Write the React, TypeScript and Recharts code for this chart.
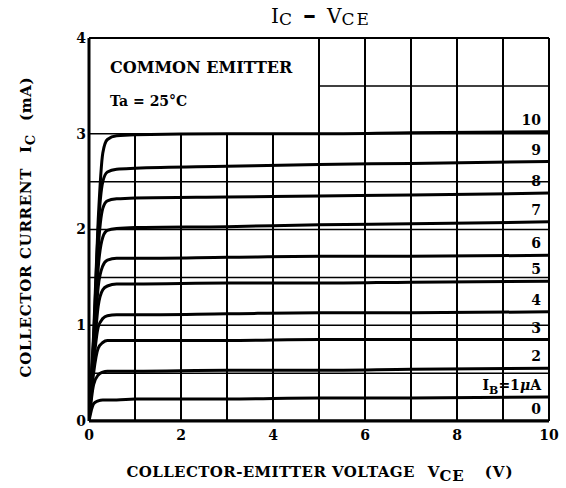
import React from 'react';
import { LineChart, Line, XAxis, YAxis, ReferenceLine, ReferenceArea, LabelList, Label } from 'recharts';

// Collector-emitter voltage sample points (V)
const vce = [0, 0.1, 0.2, 0.3, 0.4, 0.6, 1, 3, 5, 7, 10];
// Collector current (mA) for each base current IB (µA)
const ib0 = [0, 0, 0, 0, 0, 0, 0, 0, 0, 0, 0];
const ib1 = [0, 0.18, 0.21, 0.22, 0.22, 0.22, 0.23, 0.23, 0.24, 0.24, 0.25];
const ib2 = [0, 0.38, 0.48, 0.51, 0.52, 0.52, 0.52, 0.53, 0.53, 0.54, 0.55];
const ib3 = [0, 0.5, 0.76, 0.82, 0.84, 0.84, 0.84, 0.84, 0.85, 0.85, 0.85];
const ib4 = [0, 0.6, 0.98, 1.07, 1.1, 1.11, 1.11, 1.12, 1.13, 1.13, 1.14];
const ib5 = [0, 0.65, 1.2, 1.37, 1.41, 1.43, 1.43, 1.44, 1.44, 1.45, 1.46];
const ib6 = [0, 0.7, 1.4, 1.62, 1.68, 1.7, 1.7, 1.71, 1.72, 1.72, 1.73];
const ib7 = [0, 0.75, 1.6, 1.92, 1.99, 2.01, 2.02, 2.03, 2.05, 2.06, 2.08];
const ib8 = [0, 0.8, 1.8, 2.22, 2.3, 2.32, 2.33, 2.34, 2.35, 2.36, 2.38];
const ib9 = [0, 0.85, 2.0, 2.5, 2.6, 2.63, 2.64, 2.66, 2.68, 2.69, 2.71];
const ib10 = [0, 0.9, 2.1, 2.8, 2.94, 2.98, 2.99, 3.0, 3.0, 3.01, 3.02];

const seriesKeys = ['ib0', 'ib1', 'ib2', 'ib3', 'ib4', 'ib5', 'ib6', 'ib7', 'ib8', 'ib9', 'ib10'];
const curveLabels = ['0', '1', '2', '3', '4', '5', '6', '7', '8', '9', '10'];

const xTicks = [0, 2, 4, 6, 8, 10];
const yTicks = [0, 1, 2, 3, 4];
const vGridFull = [5, 6, 7, 8, 9];
const vGridLower = [1, 2, 3, 4];
const hGridFull = [0.5, 1, 1.5, 2, 2.5, 3];
const hGridUpper = [3.5];

const series = [ib0, ib1, ib2, ib3, ib4, ib5, ib6, ib7, ib8, ib9, ib10];
const data = vce.map((v, i) => {
  const row: Record<string, number> = { vce: v };
  seriesKeys.forEach((k, s) => {
    row[k] = series[s][i];
  });
  return row;
});

const FONT = '"DejaVu Serif", "Liberation Serif", serif';

const makeCurveLabel = (label: string) => (props: any) => {
  const { x, y, index } = props;
  if (index !== vce.length - 1) return null;
  const common = {
    x: x - 8,
    y: y - 7,
    textAnchor: 'end' as const,
    fontFamily: FONT,
    fontWeight: 'bold',
    fontSize: 14,
    fill: '#000',
  };
  if (label === '1') {
    return (
      <text {...common}>
        <tspan>I</tspan>
        <tspan fontSize={11} dy={4}>B</tspan>
        <tspan dy={-4}>=1</tspan>
        <tspan fontStyle="italic">μ</tspan>
        <tspan>A</tspan>
      </text>
    );
  }
  return <text {...common}>{label}</text>;
};

const XTitle = (props: any) => {
  const vb = props.viewBox;
  const cx = vb.x + vb.width / 2 + 1;
  const y = vb.y + 56;
  return (
    <text x={cx} y={y} textAnchor="middle" fontFamily={FONT} fontWeight="bold" fontSize={15} fill="#000">
      <tspan letterSpacing={0.4}>COLLECTOR-EMITTER VOLTAGE</tspan>
      <tspan dx={13}>V</tspan>
      <tspan fontSize={15} dy={4} letterSpacing={1}>CE</tspan>
      <tspan dx={20} dy={-4} letterSpacing={1}>(V)</tspan>
    </text>
  );
};

const YTitle = () => {
  const cx = 31;
  const cy = 227;
  return (
    <text
      x={cx}
      y={cy}
      transform={`rotate(-90, ${cx}, ${cy})`}
      textAnchor="middle"
      fontFamily={FONT}
      fontWeight="bold"
      fontSize={15}
      letterSpacing={0.7}
      fill="#000"
    >
      <tspan>COLLECTOR CURRENT</tspan>
      <tspan dx={15}>I</tspan>
      <tspan fontSize={13} dy={4}>C</tspan>
      <tspan dx={13} dy={-4}>(mA)</tspan>
    </text>
  );
};

const BoxText = (props: any) => {
  const vb = props.viewBox;
  return (
    <g>
      <text x={vb.x + 21} y={vb.y + 35} fontFamily={FONT} fontWeight="bold" fontSize={16} fill="#000">
        COMMON EMITTER
      </text>
      <text x={vb.x + 21} y={vb.y + 68} fontFamily={FONT} fontWeight="bold" fontSize={14} fill="#000">
        Ta = 25°C
      </text>
    </g>
  );
};

export default function App() {
  return (
    <div style={{ position: 'absolute', left: 0, top: 0, width: 566, height: 488, background: '#fff' }}>
      <div
        style={{
          position: 'absolute',
          left: 91,
          top: 1,
          width: 460,
          textAlign: 'center',
          fontFamily: FONT,
          fontSize: 20,
          lineHeight: '26px',
          color: '#000',
          whiteSpace: 'pre',
        }}
      >
        <span>I</span>
        <span style={{ fontSize: 17, position: 'relative', top: 2, letterSpacing: 2 }}>C</span>
        <span style={{ fontWeight: 'bold', fontSize: 26, margin: '0 11px 0 9px' }}>–</span>
        <span>V</span>
        <span style={{ fontSize: 17, position: 'relative', top: 2, letterSpacing: 2 }}>CE</span>
      </div>
      <LineChart width={566} height={488} data={data} margin={{ top: 38, right: 17, bottom: 0, left: 0 }}>
        <XAxis
          dataKey="vce"
          type="number"
          domain={[0, 10]}
          ticks={xTicks}
          allowDataOverflow
          tickLine={false}
          tickSize={6}
          tickMargin={3}
          height={67}
          axisLine={{ stroke: '#000', strokeWidth: 3 }}
          tick={{ fill: '#000', fontFamily: FONT, fontWeight: 'bold', fontSize: 14 }}
        >
          <Label content={XTitle} />
        </XAxis>
        <YAxis
          type="number"
          domain={[0, 4]}
          ticks={yTicks}
          allowDataOverflow
          tickLine={false}
          tickSize={0}
          tickMargin={3}
          width={89}
          axisLine={{ stroke: '#000', strokeWidth: 3 }}
          tick={{ fill: '#000', fontFamily: FONT, fontWeight: 'bold', fontSize: 14 }}
        >
          <Label content={YTitle} />
        </YAxis>
        <ReferenceArea x1={0} x2={5} y1={3} y2={4} fill="none" stroke="none" label={BoxText} />
        {hGridFull.map((v) => (
          <ReferenceLine key={'h' + v} y={v} stroke="#000" strokeWidth={1.5} />
        ))}
        {hGridUpper.map((v) => (
          <ReferenceLine key={'hu' + v} segment={[{ x: 5, y: v }, { x: 10, y: v }]} stroke="#000" strokeWidth={1.5} />
        ))}
        {vGridFull.map((v) => (
          <ReferenceLine key={'v' + v} x={v} stroke="#000" strokeWidth={2} />
        ))}
        {vGridLower.map((v) => (
          <ReferenceLine key={'vl' + v} segment={[{ x: v, y: 0 }, { x: v, y: 3 }]} stroke="#000" strokeWidth={2} />
        ))}
        <ReferenceLine y={4} stroke="#000" strokeWidth={2} />
        <ReferenceLine x={10} stroke="#000" strokeWidth={2} />
        {seriesKeys.map((k, i) => (
          <Line
            key={k}
            dataKey={k}
            type="monotone"
            stroke="#000"
            strokeWidth={3}
            dot={false}
            activeDot={false}
            isAnimationActive={false}
          >
            <LabelList dataKey={k} content={makeCurveLabel(curveLabels[i])} />
          </Line>
        ))}
      </LineChart>
    </div>
  );
}
